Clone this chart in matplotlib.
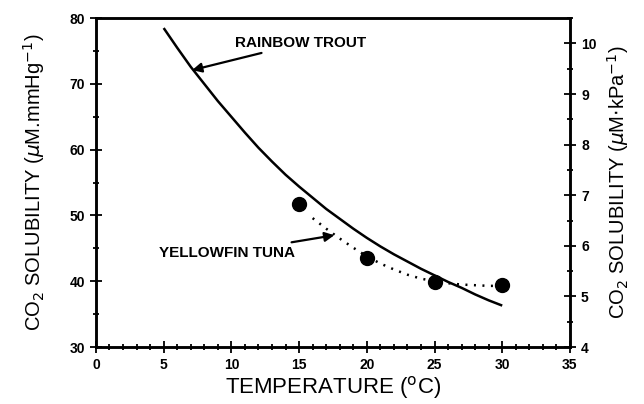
import matplotlib
matplotlib.use("Agg")
from matplotlib import pyplot as plt
from matplotlib.ticker import MultipleLocator

# Rainbow trout curve (every 1 degC)
trout_temp = list(range(5, 31))
trout_sol = [78.5, 75.5, 72.6, 70.0, 67.4, 65.0, 62.6, 60.3, 58.2, 56.2,
             54.4, 52.7, 51.0, 49.5, 48.0, 46.6, 45.3, 44.1, 43.0, 41.9,
             40.9, 39.9, 39.0, 38.0, 37.1, 36.3]

# Yellowfin tuna measured points
tuna_temp = [15, 20, 25, 30]
tuna_sol = [51.8, 43.6, 39.9, 39.4]

# dotted fit through the tuna points
tuna_fit_temp = list(range(16, 31))
tuna_fit_sol = [49.6, 48.0, 46.5, 45.1, 43.8, 42.7, 41.8, 41.0, 40.4,
                40.0, 39.7, 39.5, 39.4, 39.3, 39.3]

plt.rcParams['font.family'] = ['Liberation Sans', 'DejaVu Sans']

fig = plt.figure(figsize=(6.44, 4.04), dpi=100)
ax = fig.add_axes([0.149, 0.141, 0.736, 0.814])

ax.plot(trout_temp, trout_sol, color="black", linewidth=1.8, solid_capstyle="butt")
ax.plot(tuna_fit_temp, tuna_fit_sol, color="black", linewidth=1.8, linestyle=(0, (0.8, 2.6)))
ax.plot(tuna_temp, tuna_sol, "o", color="black", markersize=10)

ax.set_xlim(0, 35)
ax.set_ylim(30, 80)
ax.xaxis.set_major_locator(MultipleLocator(5))
ax.xaxis.set_minor_locator(MultipleLocator(1))
ax.yaxis.set_major_locator(MultipleLocator(10))
ax.yaxis.set_minor_locator(MultipleLocator(5))
ax.tick_params(which="major", direction="inout", length=9, width=1.3, labelsize=10)
ax.tick_params(which="minor", direction="inout", length=4, width=1.3)
for lab in ax.get_xticklabels() + ax.get_yticklabels():
    lab.set_fontweight("bold")
for sp in ax.spines.values():
    sp.set_linewidth(1.8)

ax.set_xlabel("TEMPERATURE ($^{\\mathrm{o}}$C)", fontsize=16, labelpad=1)
ax.set_ylabel("CO$_2$ SOLUBILITY ($\\mu$M.mmHg$^{-1}$)", fontsize=14.5, labelpad=16)

# right axis in kPa units
ax2 = ax.twinx()
ax2.set_ylim(4, 10.5)
ax2.yaxis.set_major_locator(MultipleLocator(1))
ax2.yaxis.set_minor_locator(MultipleLocator(0.5))
ax2.tick_params(which="major", direction="inout", length=9, width=1.3, labelsize=10)
ax2.tick_params(which="minor", direction="inout", length=4, width=1.3)
ax2.set_yticks([t for t in range(4, 11)])
for lab in ax2.get_yticklabels():
    lab.set_fontweight("bold")
ax2.set_ylabel("CO$_2$ SOLUBILITY ($\\mu$M$\\cdot$kPa$^{-1}$)", fontsize=14.5, labelpad=6)
for sp in ax2.spines.values():
    sp.set_linewidth(1.8)

ax.annotate("RAINBOW TROUT", xy=(7.1, 72.1), xytext=(10.3, 76.2),
            fontsize=11, fontweight="bold", va="center", ha="left",
            arrowprops=dict(arrowstyle="-|>", color="black", lw=1.6,
                            shrinkA=0, shrinkB=0, mutation_scale=14))
ax.annotate("YELLOWFIN TUNA", xy=(17.6, 47.0), xytext=(14.7, 44.3),
            fontsize=11, fontweight="bold", va="center", ha="right",
            arrowprops=dict(arrowstyle="-|>", color="black", lw=1.6,
                            shrinkA=4, shrinkB=0, mutation_scale=14))

fig.savefig("out.png", dpi=100)
